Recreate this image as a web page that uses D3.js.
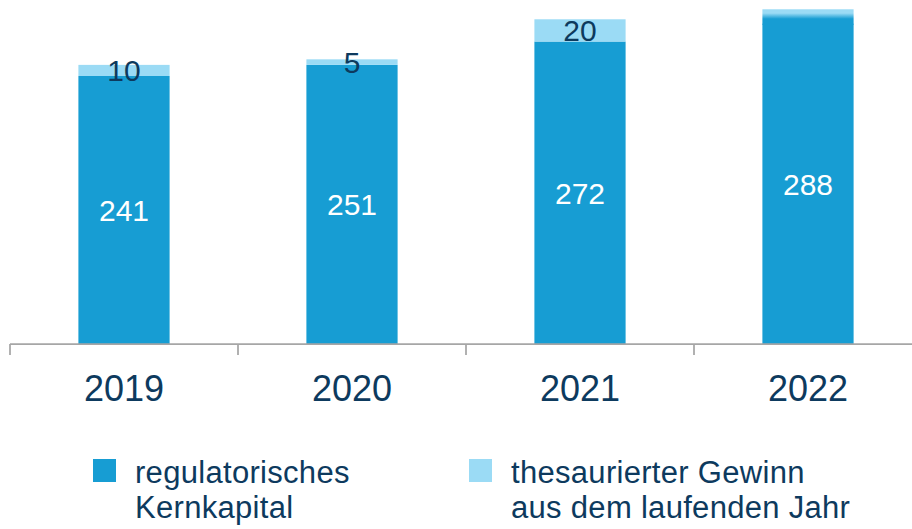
<!DOCTYPE html>
<html>
<head>
<meta charset="utf-8">
<script src="https://cdn.jsdelivr.net/npm/d3@7"></script>
<style>
  html, body { margin: 0; padding: 0; background: #ffffff; }
  svg { display: block; font-family: "Liberation Sans", Arial, sans-serif; }
</style>
</head>
<body>
<svg id="chart" width="912" height="529"></svg>
<script>
// ---- data ----
const years = ["2019", "2020", "2021", "2022"];
const kernkapital = [241, 251, 272, 288];          // regulatorisches Kernkapital
const thesauriert = [10, 5, 20, 13];               // thesaurierter Gewinn aus dem laufenden Jahr
const thesLabels = ["10", "5", "20", ""];
const legendLabels = [
  ["regulatorisches", "Kernkapital"],
  ["thesaurierter Gewinn", "aus dem laufenden Jahr"]
];

// ---- styles ----
const darkBlue = "#179dd3";
const lightBlue = "#9bdbf5";
const navy = "#0d3a5e";
const axisGrey = "#a6a6a6";

const svg = d3.select("#chart");

const x = d3.scaleBand().domain(years).range([10, 922]).padding(0);
const y = d3.scaleLinear().domain([0, 241]).range([344, 76]);
const barW = x.bandwidth() * 0.4;

// gradient for the 2022 top segment
const defs = svg.append("defs");
const grad = defs.append("linearGradient")
  .attr("id", "g2022").attr("x1", 0).attr("y1", 0).attr("x2", 0).attr("y2", 1);
grad.append("stop").attr("offset", "0%").attr("stop-color", lightBlue);
grad.append("stop").attr("offset", "25%").attr("stop-color", lightBlue);
grad.append("stop").attr("offset", "62%").attr("stop-color", darkBlue);
grad.append("stop").attr("offset", "100%").attr("stop-color", darkBlue);

const rows = years.map((yr, i) => ({ yr, k: kernkapital[i], t: thesauriert[i], tl: thesLabels[i], i }));

const g = svg.append("g");

// kernkapital bars
g.selectAll("rect.k").data(rows).join("rect")
  .attr("class", "k")
  .attr("x", d => x(d.yr) + (x.bandwidth() - barW) / 2)
  .attr("width", barW)
  .attr("y", d => y(d.k))
  .attr("height", d => y(0) - y(d.k))
  .attr("fill", darkBlue);

// thesauriert bars
g.selectAll("rect.t").data(rows).join("rect")
  .attr("class", "t")
  .attr("x", d => x(d.yr) + (x.bandwidth() - barW) / 2)
  .attr("width", barW)
  .attr("y", d => y(d.k + d.t))
  .attr("height", d => y(d.k) - y(d.k + d.t) + (d.tl === "" ? 1 : 0))
  .attr("fill", d => d.tl === "" ? "url(#g2022)" : lightBlue);

// value labels (kern)
g.selectAll("text.kl").data(rows).join("text")
  .attr("class", "kl")
  .attr("x", d => x(d.yr) + x.bandwidth() / 2)
  .attr("y", d => (y(0) + y(d.k)) / 2 + 11)
  .attr("text-anchor", "middle")
  .attr("font-size", 30)
  .attr("fill", "#ffffff")
  .text(d => d.k);

// value labels (thesauriert)
g.selectAll("text.tl").data(rows.filter(d => d.tl !== "")).join("text")
  .attr("class", "tl")
  .attr("x", d => x(d.yr) + x.bandwidth() / 2)
  .attr("y", d => (y(d.k) + y(d.k + d.t)) / 2 + 11)
  .attr("text-anchor", "middle")
  .attr("font-size", 30)
  .attr("fill", navy)
  .text(d => d.tl);

// axis
const axis = d3.axisBottom(x).tickSize(0).tickFormat("");
const axG = svg.append("g").attr("transform", `translate(0,${y(0)})`).call(axis);
axG.select(".domain").attr("stroke", axisGrey).attr("stroke-width", 1.75)
  .attr("d", `M10,0H912`);
axG.selectAll(".tick").remove();
// boundary ticks
axG.selectAll("line.bt").data(years).join("line")
  .attr("class", "bt")
  .attr("x1", d => x(d)).attr("x2", d => x(d))
  .attr("y1", 0).attr("y2", 11)
  .attr("stroke", axisGrey).attr("stroke-width", 1.75);
// category labels
svg.selectAll("text.cat").data(years).join("text")
  .attr("class", "cat")
  .attr("x", d => x(d) + x.bandwidth() / 2)
  .attr("y", 401)
  .attr("text-anchor", "middle")
  .attr("font-size", 36)
  .attr("fill", navy)
  .text(d => d);

// legend
const legX = [93, 469];
const legColors = [darkBlue, lightBlue];
const leg = svg.selectAll("g.leg").data(legendLabels).join("g")
  .attr("class", "leg")
  .attr("transform", (d, i) => `translate(${legX[i]},459)`);
leg.append("rect")
  .attr("width", 23).attr("height", 23)
  .attr("fill", (d, i) => legColors[i]);
leg.each(function(lines) {
  const t = d3.select(this).append("text")
    .attr("font-size", 31)
    .attr("letter-spacing", 0.3)
    .attr("fill", navy);
  lines.forEach((ln, j) => {
    t.append("tspan").attr("x", 42).attr("y", 24 + j * 35).text(ln);
  });
});
</script>
</body>
</html>
